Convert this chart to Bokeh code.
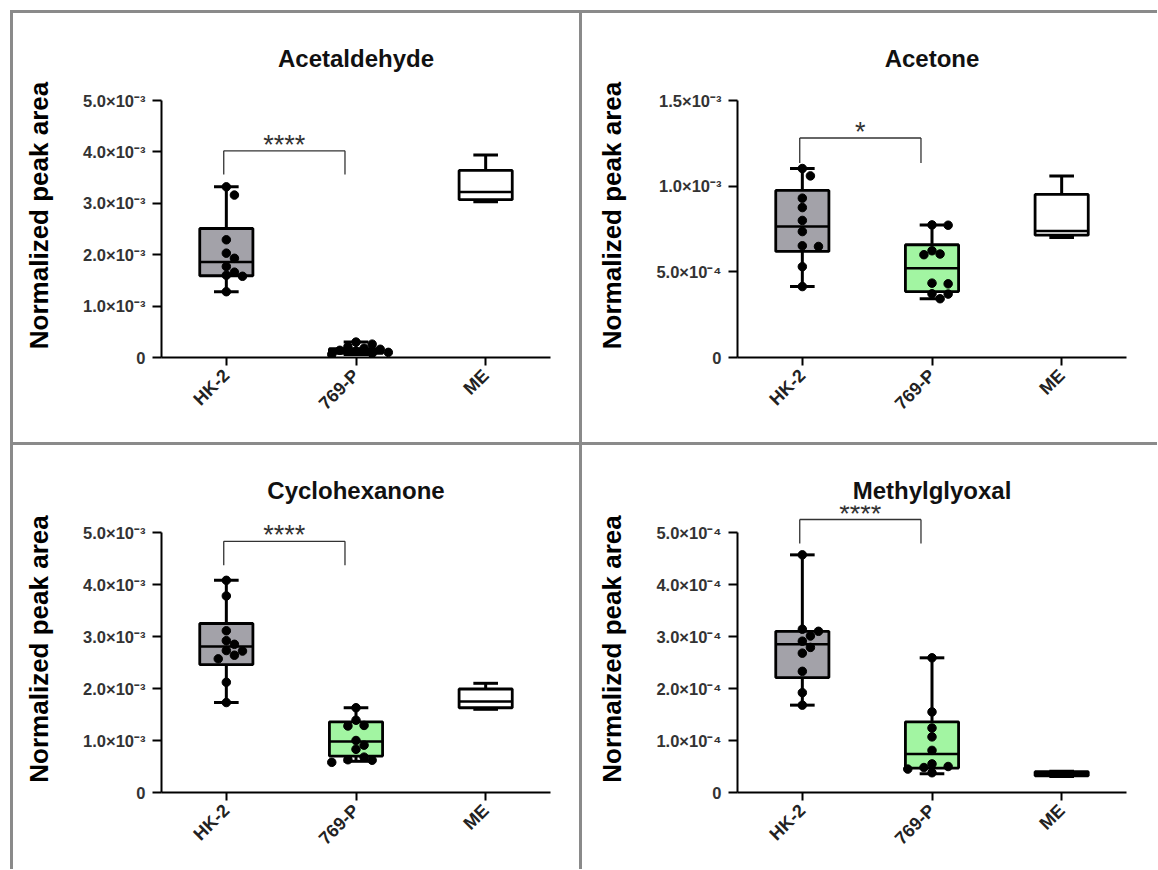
import math
from bokeh.plotting import figure
from bokeh.models import FactorRange, Range1d, FixedTicker, Spacer, ColumnDataSource
from bokeh.transform import dodge
from bokeh.layouts import row, column
from bokeh.embed import file_html
from bokeh.resources import INLINE
from bokeh.core.properties import value

# ---------------- data ----------------
groups = ["HK-2", "769-P", "ME"]
box_colors = ["#a3a2a9", "#a2f5a2", "#ffffff"]
y_label = "Normalized peak area"

# Acetaldehyde
acetald_ticks = [0, 0.001, 0.002, 0.003, 0.004, 0.005]
acetald_tick_labels = ["0", "1.0×10⁻³", "2.0×10⁻³", "3.0×10⁻³", "4.0×10⁻³", "5.0×10⁻³"]
acetald_min = [1.28e-3, 0.06e-3, 3.03e-3]
acetald_q1 = [1.59e-3, 0.08e-3, 3.07e-3]
acetald_med = [1.86e-3, 0.13e-3, 3.22e-3]
acetald_q3 = [2.51e-3, 0.17e-3, 3.64e-3]
acetald_max = [3.32e-3, 0.30e-3, 3.94e-3]
acetald_hk2 = [3.32e-3, 3.16e-3, 2.29e-3, 2.03e-3, 1.93e-3, 1.77e-3, 1.66e-3, 1.60e-3, 1.58e-3, 1.28e-3]
acetald_769p = [0.30e-3, 0.26e-3, 0.21e-3, 0.18e-3, 0.16e-3, 0.14e-3, 0.12e-3, 0.10e-3, 0.08e-3, 0.06e-3]
acetald_sig = ["****", 4.02e-3, 3.56e-3]

# Acetone
acetone_ticks = [0, 0.0005, 0.001, 0.0015]
acetone_tick_labels = ["0", "5.0×10⁻⁴", "1.0×10⁻³", "1.5×10⁻³"]
acetone_min = [0.414e-3, 0.343e-3, 0.700e-3]
acetone_q1 = [0.619e-3, 0.385e-3, 0.714e-3]
acetone_med = [0.764e-3, 0.521e-3, 0.739e-3]
acetone_q3 = [0.975e-3, 0.658e-3, 0.952e-3]
acetone_max = [1.103e-3, 0.774e-3, 1.059e-3]
acetone_hk2 = [1.103e-3, 1.06e-3, 0.93e-3, 0.875e-3, 0.80e-3, 0.735e-3, 0.652e-3, 0.648e-3, 0.53e-3, 0.414e-3]
acetone_769p = [0.774e-3, 0.772e-3, 0.623e-3, 0.604e-3, 0.60e-3, 0.434e-3, 0.43e-3, 0.372e-3, 0.37e-3, 0.343e-3]
acetone_sig = ["*", 1.281e-3, 1.135e-3]

# Cyclohexanone
cyclo_ticks = [0, 0.001, 0.002, 0.003, 0.004, 0.005]
cyclo_tick_labels = ["0", "1.0×10⁻³", "2.0×10⁻³", "3.0×10⁻³", "4.0×10⁻³", "5.0×10⁻³"]
cyclo_min = [1.73e-3, 0.60e-3, 1.60e-3]
cyclo_q1 = [2.46e-3, 0.70e-3, 1.63e-3]
cyclo_med = [2.81e-3, 0.98e-3, 1.75e-3]
cyclo_q3 = [3.25e-3, 1.36e-3, 1.99e-3]
cyclo_max = [4.08e-3, 1.63e-3, 2.10e-3]
cyclo_hk2 = [4.08e-3, 3.78e-3, 3.11e-3, 2.92e-3, 2.85e-3, 2.73e-3, 2.72e-3, 2.64e-3, 2.57e-3, 2.12e-3, 1.73e-3]
cyclo_769p = [1.63e-3, 1.39e-3, 1.29e-3, 1.28e-3, 1.00e-3, 0.91e-3, 0.83e-3, 0.68e-3, 0.63e-3, 0.62e-3, 0.58e-3]
cyclo_sig = ["****", 4.83e-3, 4.37e-3]

# Methylglyoxal
methyl_ticks = [0, 0.0001, 0.0002, 0.0003, 0.0004, 0.0005]
methyl_tick_labels = ["0", "1.0×10⁻⁴", "2.0×10⁻⁴", "3.0×10⁻⁴", "4.0×10⁻⁴", "5.0×10⁻⁴"]
methyl_min = [1.68e-4, 0.36e-4, 0.31e-4]
methyl_q1 = [2.21e-4, 0.47e-4, 0.32e-4]
methyl_med = [2.85e-4, 0.74e-4, 0.36e-4]
methyl_q3 = [3.10e-4, 1.36e-4, 0.40e-4]
methyl_max = [4.57e-4, 2.59e-4, 0.41e-4]
methyl_hk2 = [4.57e-4, 3.14e-4, 3.10e-4, 3.01e-4, 2.91e-4, 2.79e-4, 2.68e-4, 2.33e-4, 1.92e-4, 1.68e-4]
methyl_769p = [2.59e-4, 1.55e-4, 1.24e-4, 1.07e-4, 0.81e-4, 0.55e-4, 0.50e-4, 0.48e-4, 0.45e-4, 0.38e-4]
methyl_sig = ["****", 5.25e-4, 4.79e-4]

FONT = "Liberation Sans"
FRAME_W = 389
DOT = 8.5


def swarm(vals, px_per_unit, cat_px):
    placed, offs = [], []
    for v in vals:
        yy = v * px_per_unit
        xx = 0.0
        for k in [0, 1, -1, 2, -2, 3, -3, 4, -4]:
            xx = k * DOT * 0.95
            if all((xx - a) ** 2 + (yy - b) ** 2 >= (DOT * 1.0) ** 2 for a, b in placed):
                break
        placed.append((xx, yy))
        offs.append(xx / cat_px)
    return offs


def panel(title, ticks, tick_labels, mins, q1s, meds, q3s, maxs, pts_hk, pts_769, sig,
          width, height, left, top, bottom):
    right = width - left - FRAME_W
    frame_h = height - top - bottom
    top_val = ticks[-1]
    axis_px = frame_h - 27
    y_end = top_val * frame_h / axis_px
    p = figure(x_range=FactorRange(*groups, range_padding=0, factor_padding=0),
               y_range=Range1d(0, y_end), width=width, height=height,
               output_backend="svg", toolbar_location=None,
               min_border_left=left, min_border_right=right,
               min_border_top=top, min_border_bottom=bottom,
               background_fill_color="white", border_fill_color="white",
               styles={"background-color": "white"})
    p.outline_line_color = None
    p.xgrid.visible = False
    p.ygrid.visible = False

    p.title.text = title
    p.title.align = "center"
    p.title.text_font = FONT
    p.title.text_font_size = "24px"
    p.title.text_font_style = "bold"
    p.title.text_color = "#111111"
    p.title.standoff = 3

    yax = p.yaxis[0]
    yax.ticker = FixedTicker(ticks=ticks)
    yax.major_label_overrides = dict(zip(ticks, tick_labels))
    yax.bounds = (0, top_val)
    yax.minor_tick_line_color = None
    yax.major_tick_out = 9
    yax.major_tick_in = 0
    yax.major_label_standoff = 7
    yax.major_label_text_font = FONT
    yax.major_label_text_font_size = "16.5px"
    yax.major_label_text_font_style = "bold"
    yax.major_label_text_color = "#333333"
    yax.axis_label = y_label
    yax.axis_label_text_font = FONT
    yax.axis_label_text_font_size = "26px"
    yax.axis_label_text_font_style = "bold"
    yax.axis_label_text_color = "#000000"
    yax.axis_label_standoff = 26

    xax = p.xaxis[0]
    xax.major_label_orientation = math.pi / 4
    xax.major_tick_out = 8
    xax.major_tick_in = 0
    xax.major_label_standoff = 7
    xax.major_label_text_font = FONT
    xax.major_label_text_font_size = "18px"
    xax.major_label_text_font_style = "bold"
    xax.major_label_text_color = "#222222"

    for ax in (xax, yax):
        ax.axis_line_width = 2
        ax.axis_line_color = "black"
        ax.major_tick_line_width = 2
        ax.major_tick_line_color = "black"

    src = ColumnDataSource(dict(g=groups, lo=mins, q1=q1s, med=meds, q3=q3s, hi=maxs, c=box_colors))
    # whiskers
    p.segment(x0="g", x1="g", y0="q3", y1="hi", source=src, line_color="black", line_width=3)
    p.segment(x0="g", x1="g", y0="lo", y1="q1", source=src, line_color="black", line_width=3)
    # caps
    for col in ("hi", "lo"):
        p.segment(x0=dodge("g", -0.095, range=p.x_range), x1=dodge("g", 0.095, range=p.x_range),
                  y0=col, y1=col, source=src, line_color="black", line_width=3)
    # boxes
    p.vbar(x="g", width=0.41, top="q3", bottom="q1", source=src, fill_color="c",
           line_color="black", line_width=2.8)
    p.segment(x0=dodge("g", -0.205, range=p.x_range), x1=dodge("g", 0.205, range=p.x_range),
              y0="med", y1="med", source=src, line_color="black", line_width=2.5)

    # points
    px_per_unit = axis_px / top_val
    cat_px = FRAME_W / len(groups)
    xs, ys = [], []
    for gi, pts in ((0, pts_hk), (1, pts_769)):
        offs = swarm(pts, px_per_unit, cat_px)
        xs += [gi + 0.5 + o for o in offs]
        ys += list(pts)
    p.scatter(x=xs, y=ys, size=DOT, fill_color="black", line_color="black")

    # significance bracket
    stars, br_top, br_leg = sig
    xl = groups.index("HK-2") + 0.5 - 0.02
    xr = groups.index("769-P") + 0.5 - 0.085
    p.segment(x0=[xl, xl, xr], x1=[xl, xr, xr], y0=[br_leg, br_top, br_top], y1=[br_top, br_top, br_leg],
              line_color="#333333", line_width=1.3)
    p.text(x=[(xl + xr) / 2], y=[br_top], text=[stars], text_align="center", text_baseline="alphabetic",
           text_font=value(FONT), text_font_size="27px", text_color="#333333", y_offset=-6)
    return p


p1 = panel("Acetaldehyde", acetald_ticks, acetald_tick_labels, acetald_min, acetald_q1, acetald_med,
           acetald_q3, acetald_max, acetald_hk2, acetald_769p, acetald_sig, 566, 429, 148, 60, 85)
p2 = panel("Acetone", acetone_ticks, acetone_tick_labels, acetone_min, acetone_q1, acetone_med,
           acetone_q3, acetone_max, acetone_hk2, acetone_769p, acetone_sig, 575, 429, 155, 60, 85)
p3 = panel("Cyclohexanone", cyclo_ticks, cyclo_tick_labels, cyclo_min, cyclo_q1, cyclo_med,
           cyclo_q3, cyclo_max, cyclo_hk2, cyclo_769p, cyclo_sig, 566, 424, 148, 60, 77)
p4 = panel("Methylglyoxal", methyl_ticks, methyl_tick_labels, methyl_min, methyl_q1, methyl_med,
           methyl_q3, methyl_max, methyl_hk2, methyl_769p, methyl_sig, 575, 424, 155, 60, 77)

r1 = row(Spacer(width=0, height=429), p1, p2, spacing=3)
r2 = row(Spacer(width=0, height=424), p3, p4, spacing=3)
grid = column(Spacer(width=1147, height=0), r1, r2, spacing=3,
              styles={"background-color": "#8a8a8a"})
root = column(Spacer(width=1158, height=10), row(Spacer(width=10, height=859), grid))

open("out.html", "w").write(file_html(root, INLINE))
